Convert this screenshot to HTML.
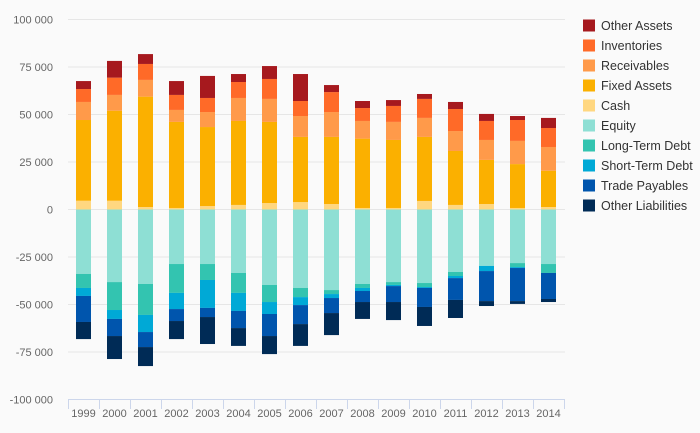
<!DOCTYPE html>
<html><head><meta charset="utf-8"><style>
body{margin:0;background:#fafafa;font-family:"Liberation Sans",sans-serif}
svg{display:block}
</style></head><body>
<svg id="chart" width="700" height="433" xmlns="http://www.w3.org/2000/svg">
<rect width="700" height="433" fill="#fafafa"/>
<g id="grid"></g>
<g id="bars"></g>
<g id="xaxis"></g>
<g id="legend"></g>
</svg>
<script>
const categories=["1999","2000","2001","2002","2003","2004","2005","2006","2007","2008","2009","2010","2011","2012","2013","2014"];
const cash=[4600,4600,1300,800,1800,2400,3400,3900,2900,800,800,4500,2400,2900,800,1300];
const fixedAssets=[42500,47400,58100,45300,41600,44200,42700,34300,35300,36500,35800,33700,28400,23200,23100,19100];
const receivables=[9500,8300,8800,6300,7900,12100,12100,11000,13100,9300,9500,10000,10500,10500,12200,12500];
const inventories=[6800,9100,8400,7900,7400,8400,10500,7900,10500,6800,8400,10000,11600,10000,11000,10000];
const otherAssets=[4200,8800,5200,7300,11600,4200,6800,14200,3700,3700,3100,2600,3700,3700,2100,5300];
const equity=[-33900,-38200,-39200,-28700,-28700,-33400,-39700,-41300,-42400,-39200,-38200,-38700,-32900,-29700,-28200,-28700];
const longTermDebt=[-7400,-14700,-16300,-15200,-8400,-10500,-9000,-4800,-2100,-2100,-1500,-2100,-2100,0,-2100,-4700];
const shortTermDebt=[-4200,-4700,-9000,-8500,-14700,-9500,-6300,-4200,-2100,-1600,-600,-500,-1100,-2700,-500,0];
const tradePayables=[-13700,-9000,-7900,-6300,-4800,-9000,-11600,-10000,-7900,-5800,-8400,-10000,-11500,-15800,-17400,-13700];
const otherLiabilities=[-9000,-12100,-10000,-9500,-14200,-9400,-9500,-11500,-11600,-8900,-9500,-10000,-9500,-2600,-1500,-1600];
const yTicks=[100000,75000,50000,25000,0,-25000,-50000,-75000,-100000];
const yTickLabels=["100 000","75 000","50 000","25 000","0","-25 000","-50 000","-75 000","-100 000"];

const posSeries=[["Cash",cash,"#ffd780"],["Fixed Assets",fixedAssets,"#fbb000"],["Receivables",receivables,"#ff9a4a"],["Inventories",inventories,"#ff6a28"],["Other Assets",otherAssets,"#a6191e"]];
const negSeries=[["Equity",equity,"#8edfd4"],["Long-Term Debt",longTermDebt,"#33c4b0"],["Short-Term Debt",shortTermDebt,"#00a9d6"],["Trade Payables",tradePayables,"#0055ad"],["Other Liabilities",otherLiabilities,"#002b56"]];
const legendOrder=["Other Assets","Inventories","Receivables","Fixed Assets","Cash","Equity","Long-Term Debt","Short-Term Debt","Trade Payables","Other Liabilities"];

const NS="http://www.w3.org/2000/svg";
const X0=68,X1=564,Y0=209.5,PX=190/100000;
const y=v=>Y0-v*PX;
const step=(X1-X0)/categories.length;
const xc=i=>X0+step*(i+0.5);
function mk(tag,parent,attrs){const e=document.createElementNS(NS,tag);for(const k in attrs)e.setAttribute(k,attrs[k]);parent.appendChild(e);return e;}
const grid=document.getElementById('grid');
yTicks.forEach((t,i)=>{
  const l=mk('line',grid,{x1:X0,x2:X1+1,y1:y(t),y2:y(t),stroke:'#e6e6e6','stroke-width':1});
  
  
  const tx=mk('text',grid,{x:53,y:y(t)+4,'text-anchor':'end','font-size':'11',fill:'#666'});
  tx.textContent=yTickLabels[i];
  
  
});
const bars=document.getElementById('bars');
const colorOf={};
[...posSeries,...negSeries].forEach(s=>colorOf[s[0]]=s[2]);
categories.forEach((c,i)=>{
  [posSeries,negSeries].forEach(group=>{
    let cum=0;
    group.forEach(s=>{
      const v=s[1][i];const a=cum,b=cum+v;cum=b;
      if(v===0)return;
      const top=Math.min(y(a),y(b)),h=Math.abs(y(a)-y(b));
      const r=mk('rect',bars,{x:xc(i)-7.5,y:top,width:15,height:h,fill:s[2]});
      
      
    });
  });
});
const xa=document.getElementById('xaxis');
const al=mk('line',xa,{x1:X0,x2:X1+1,y1:399.5,y2:399.5,stroke:'#ccd6eb'});


for(let i=0;i<=categories.length;i++){
  const tk=mk('line',xa,{x1:X0+step*i+0.5,x2:X0+step*i+0.5,y1:399,y2:409,stroke:'#ccd6eb'});
  
  
}
categories.forEach((c,i)=>{
  const t=mk('text',xa,{x:xc(i),y:417,'text-anchor':'middle','font-size':'11',fill:'#666'});
  t.textContent=c;
  
  
});
const lg=document.getElementById('legend');
legendOrder.forEach((n,i)=>{
  const g=mk('g',lg,{});
  
  
  mk('rect',g,{x:583,y:19.5+i*20,width:12,height:12,fill:colorOf[n]});
  const t=mk('text',g,{x:601,y:30+i*20,'font-size':'12.5',fill:'#333'});
  t.textContent=n;
});
</script>
</body></html>
